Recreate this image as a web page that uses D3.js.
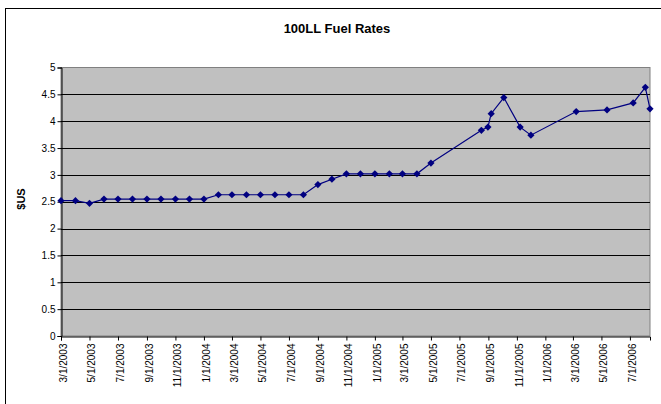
<!DOCTYPE html>
<html>
<head>
<meta charset="utf-8">
<script src="https://cdn.jsdelivr.net/npm/d3@7"></script>
<style>
  body { margin: 0; background: #fff; }
  svg { display: block; font-family: "Liberation Sans", Arial, sans-serif; }
</style>
</head>
<body>
<div id="chart"></div>
<script>
// fuel price per month
const dates = ["3/1/2003","4/1/2003","5/1/2003","6/1/2003","7/1/2003","8/1/2003","9/1/2003","10/1/2003",
  "11/1/2003","12/1/2003","1/1/2004","2/1/2004","3/1/2004","4/1/2004","5/1/2004","6/1/2004","7/1/2004",
  "8/1/2004","9/1/2004","10/1/2004","11/1/2004","12/1/2004","1/1/2005","2/1/2005","3/1/2005","4/1/2005",
  "5/1/2005","8/17/2005","8/31/2005","9/7/2005","10/4/2005","11/8/2005","12/1/2005","3/8/2006",
  "5/13/2006","7/8/2006","8/3/2006","8/13/2006"];
const prices = [2.52, 2.52, 2.47, 2.55, 2.55, 2.55, 2.55, 2.55,
  2.55, 2.55, 2.55, 2.63, 2.63, 2.63, 2.63, 2.63, 2.63,
  2.63, 2.82, 2.92, 3.02, 3.02, 3.02, 3.02, 3.02, 3.02,
  3.22, 3.83, 3.89, 4.14, 4.44, 3.89, 3.74, 4.18,
  4.21, 4.34, 4.63, 4.23];
const tickLabels = ["3/1/2003","5/1/2003","7/1/2003","9/1/2003","11/1/2003","1/1/2004","3/1/2004",
  "5/1/2004","7/1/2004","9/1/2004","11/1/2004","1/1/2005","3/1/2005","5/1/2005","7/1/2005",
  "9/1/2005","11/1/2005","1/1/2006","3/1/2006","5/1/2006","7/1/2006"];
const yTicks = [0, 0.5, 1, 1.5, 2, 2.5, 3, 3.5, 4, 4.5, 5];

const W = 661, H = 404;
const plot = {left: 61, right: 650, top: 67.5, bottom: 336};

const parse = d3.timeParse("%m/%d/%Y");
const data = dates.map((d, i) => ({date: parse(d), value: prices[i]}));

const svg = d3.select("#chart")
  .append("svg")
    .attr("width", W)
    .attr("height", H);

// outer chart border (runs off the window on the right and bottom)
svg.append("rect")
  .attr("x", 5.5).attr("y", 8.5)
  .attr("width", W + 10).attr("height", H + 10)
  .attr("fill", "#fff")
  .attr("stroke", "#000");

svg.append("text")
  .attr("x", 337).attr("y", 33)
  .attr("text-anchor", "middle")
  .style("font-size", "13px")
  .style("font-weight", "bold")
  .text("100LL Fuel Rates");

const x = d3.scaleTime()
  .domain(d3.extent(data, d => d.date))
  .range([plot.left, plot.right]);
const y = d3.scaleLinear()
  .domain([0, 5])
  .range([plot.bottom, plot.top]);

// plot area
svg.append("rect")
  .attr("x", plot.left).attr("y", plot.top)
  .attr("width", plot.right - plot.left)
  .attr("height", plot.bottom - plot.top)
  .attr("fill", "#c0c0c0")
  .attr("stroke", "#808080");

// gridlines
svg.append("g")
  .selectAll("line")
  .data(yTicks.filter(v => v > 0 && v < 5))
  .enter()
  .append("line")
    .attr("x1", plot.left).attr("x2", plot.right)
    .attr("y1", d => Math.round(y(d)) + 0.5)
    .attr("y2", d => Math.round(y(d)) + 0.5)
    .attr("stroke", "#000");

// y axis
const yAxis = svg.append("g")
  .attr("transform", "translate(" + (plot.left + 0.5) + ",0)")
  .call(d3.axisLeft(y).tickValues(yTicks).tickSize(4).tickPadding(2).tickFormat(d3.format("")));
yAxis.selectAll("text").style("font-size", "10px").attr("fill", "#000");
yAxis.selectAll("line, path").attr("stroke", "#000");

// x axis
const xAxis = svg.append("g")
  .attr("transform", "translate(0," + (plot.bottom + 0.5) + ")")
  .call(d3.axisBottom(x)
    .tickValues(tickLabels.map(parse))
    .tickSize(4)
    .tickFormat(d3.timeFormat("%-m/%-d/%Y")));
xAxis.selectAll("line, path").attr("stroke", "#000");
xAxis.selectAll("text")
  .style("font-size", "10px")
  .attr("fill", "#000")
  .attr("text-anchor", "end")
  .attr("transform", "rotate(-90)")
  .attr("x", -7)
  .attr("y", 0)
  .attr("dy", "0.55em");

svg.append("text")
  .attr("transform", "translate(25,199) rotate(-90)")
  .attr("text-anchor", "middle")
  .style("font-size", "11px")
  .style("font-weight", "bold")
  .text("$US");

// series
const line = d3.line()
  .x(d => x(d.date))
  .y(d => y(d.value));

svg.append("path")
  .datum(data)
  .attr("d", line)
  .attr("fill", "none")
  .attr("stroke", "#000080")
  .attr("stroke-width", 1.2);

svg.append("g")
  .selectAll("path")
  .data(data)
  .enter()
  .append("path")
    .attr("d", d3.symbol(d3.symbolSquare, 26))
    .attr("transform", d => "translate(" + x(d.date) + "," + y(d.value) + ") rotate(45)")
    .attr("fill", "#000080");
</script>
</body>
</html>
